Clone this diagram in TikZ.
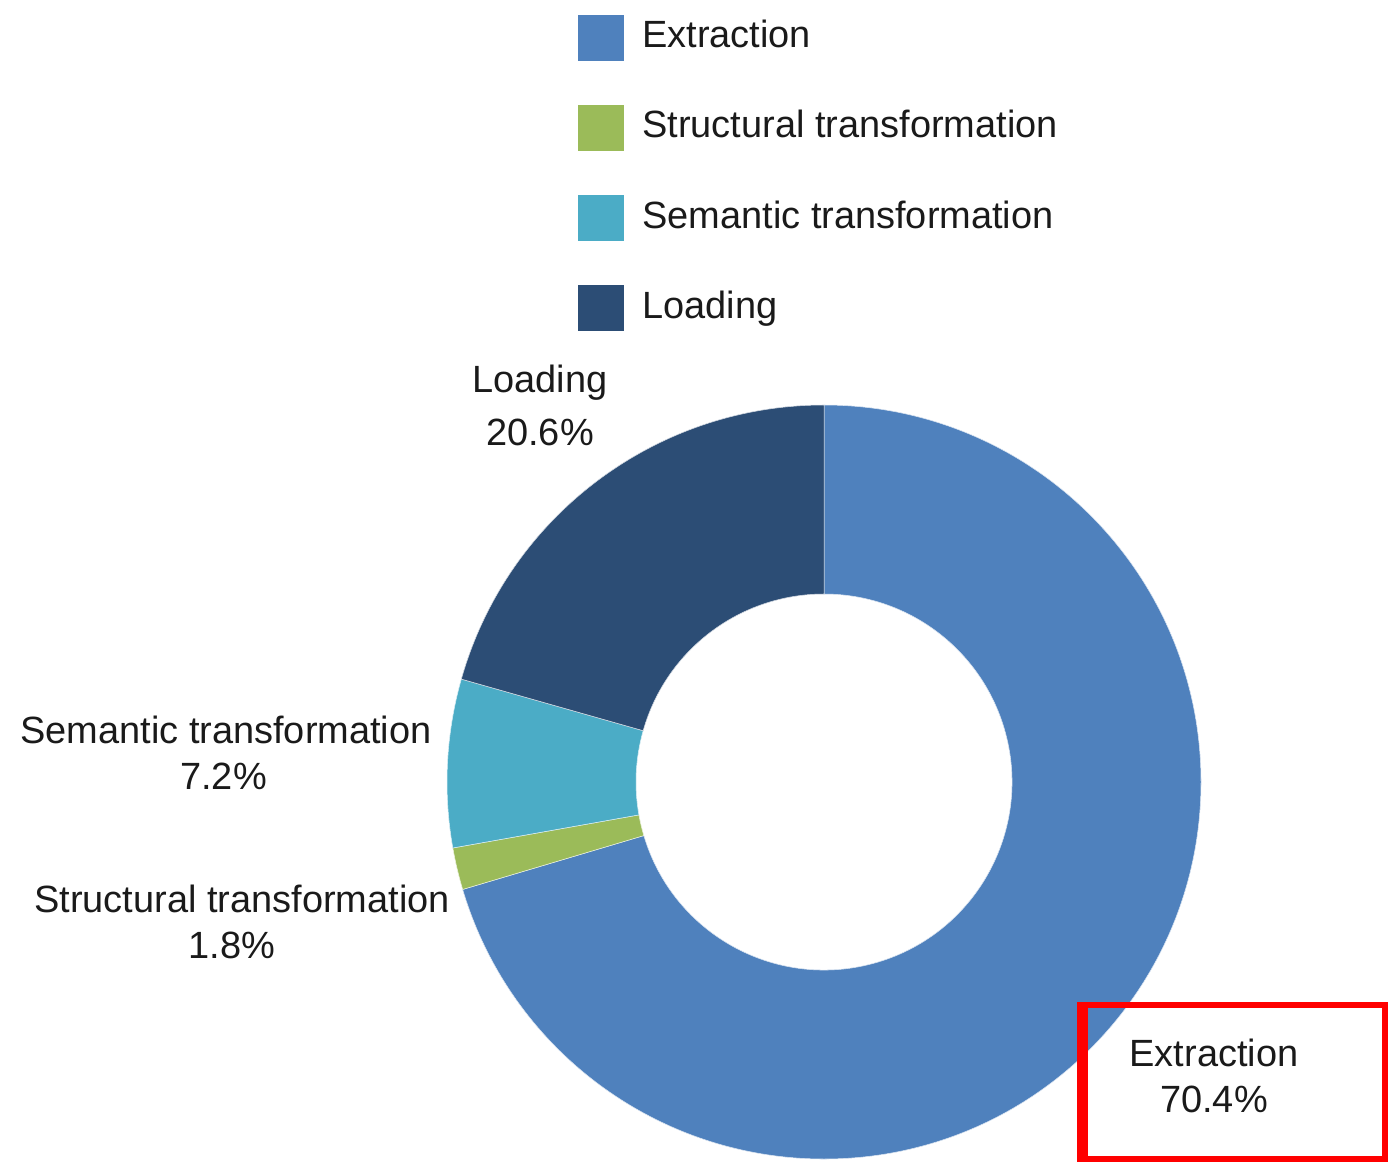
\documentclass[tikz,border=0pt]{standalone}
\usepackage{fontspec}
\setmainfont{Liberation Sans}
\usetikzlibrary{positioning}

\definecolor{extrblue}{HTML}{4F81BD}
\definecolor{structgreen}{HTML}{9BBB59}
\definecolor{semcyan}{HTML}{4BACC6}
\definecolor{loadnavy}{HTML}{2C4D75}
\definecolor{textgray}{HTML}{1A1A1A}

% one piece of the ring, angles in degrees
\newcommand{\ringslice}[3]{%
  \filldraw[fill=#1, draw=white!80!#1, line width=0.3pt]
    (#2:377) arc[start angle=#2, end angle=#3, radius=377]
    -- (#3:188) arc[start angle=#3, end angle=#2, radius=188] -- cycle;}

\tikzset{
  legendbox/.style={fill=#1, minimum size=0.92cm, inner sep=0pt, anchor=north west},
  legendtext/.style={anchor=base west, inner sep=0pt, text=textgray},
  slicelabel/.style={align=center, anchor=base, inner sep=0pt, text=textgray},
}

\begin{document}
\begin{tikzpicture}[x=0.02cm, y=-0.02cm, font=\fontsize{21.6}{26.1}\selectfont]
        \useasboundingbox (0,0) rectangle (1388,1162);

        % legend
        \node[legendbox=extrblue] (lgextr) at (578,15) {};
        \node[legendbox=structgreen] (lgstruct) at (578,105) {};
        \node[legendbox=semcyan] (lgsem) at (578,195) {};
        \node[legendbox=loadnavy] (lgload) at (578,285) {};
        \node[legendtext] (txextr) at (642,48) {Extraction};
        \node[legendtext] (txstruct) at (642,138) {Structural transformation};
        \node[legendtext] (txsem) at (642,228) {Semantic transformation};
        \node[legendtext] (txload) at (642,318) {Loading};

        % ring
        \begin{scope}[shift={(824,782)}, y=0.02cm]
            \ringslice{extrblue}{90}{-163.44}
            \ringslice{structgreen}{-163.44}{-169.92}
            \ringslice{semcyan}{-169.92}{-195.84}
            \ringslice{loadnavy}{-195.84}{-270}
        \end{scope}

        % slice labels (anchor = baseline of the last line)
        \node[slicelabel] (lbload) at (540,445) {Loading\\[4pt]20.6\%};
        \node[slicelabel] (lbsem) at (226,789) {Semantic transformation\\7.2\%\hspace*{0.1cm}};
        \node[slicelabel] (lbstruct) at (242,958) {Structural transformation\\1.8\%\hspace*{0.4cm}};
        \node[slicelabel] (lbextr) at (1214,1112) {Extraction\\70.4\%};

        \draw[red, line width=3pt] (1080,1005) rectangle (1385,1159);
        \fill[red] (1077,1002) rectangle (1088,1162);
    \end{tikzpicture}
\end{document}
